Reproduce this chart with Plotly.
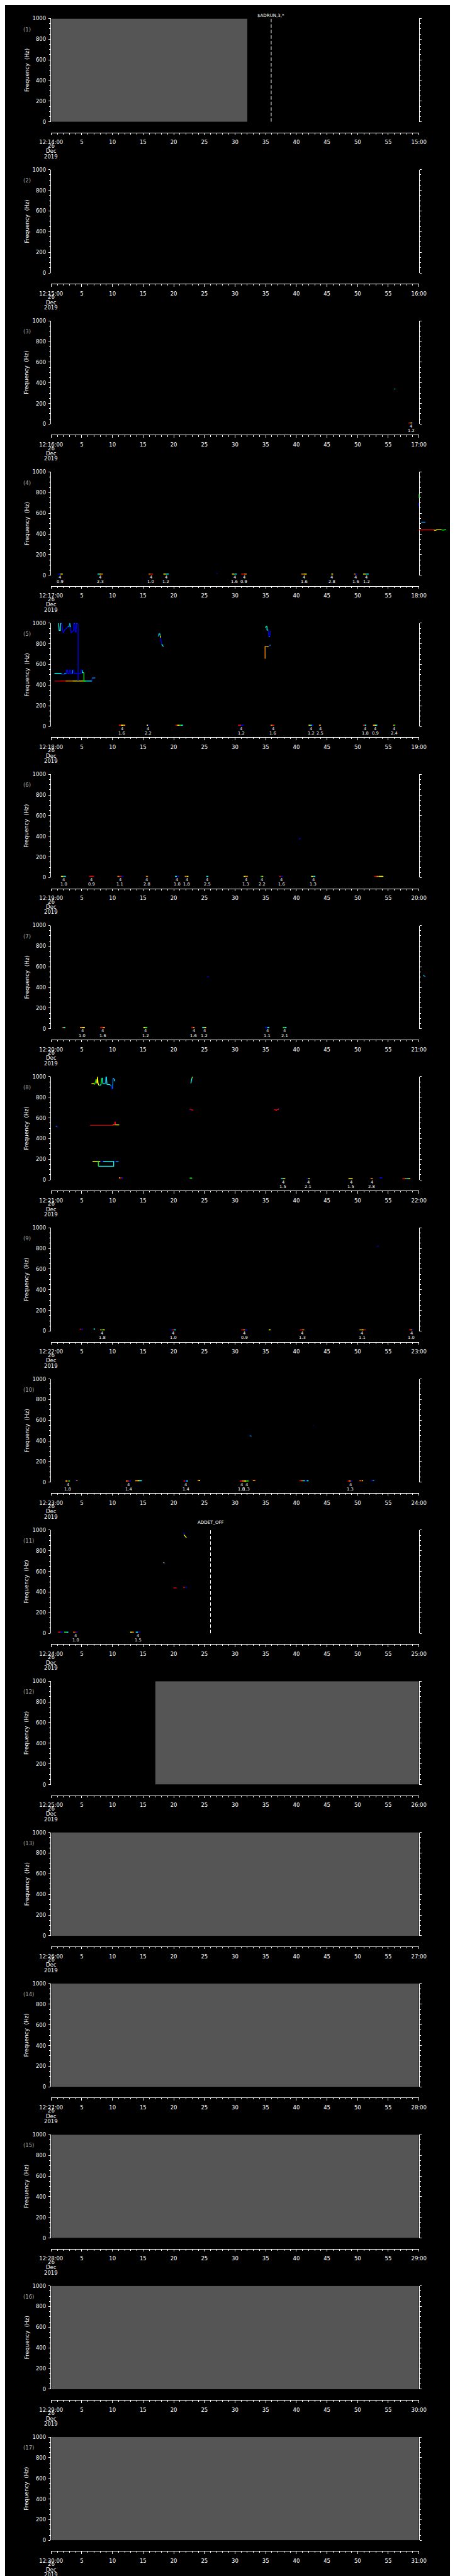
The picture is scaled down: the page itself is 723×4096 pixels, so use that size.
import plotly.graph_objects as go

S = 0.705
REF_W, REF_H = 1024, 5802
FIG_W, FIG_H = 723, 4096

# ---------------- data ----------------
panel_minute = list(range(14, 31))            # panel k covers 12:MM:00 .. 12:MM+1:00
date_lines = ["26", "Dec", "2019"]
time_ticks = list(range(0, 61, 5))
freq_ticks = [0, 200, 400, 600, 800, 1000]

gap_panel = [1, 12, 13, 14, 15, 16, 17]
gap_start = [0.0, 17.0, 0.0, 0.0, 0.0, 0.0, 0.0]
gap_end = [32.0, 60.0, 60.0, 60.0, 60.0, 60.0, 60.0]

event_panel = [1, 11]
event_time = [35.9, 26.0]
event_text = ["$ADRUN,3,*", "ADDET_OFF"]

count_text = "4"

# tracks: (times [s], frequencies [Hz], amplitude level of each segment 0..7)
p3_tracks = [([56.0, 56.15], [338, 342], [2])]
p4_tracks = [
    ([60.0, 61.95, 62.4, 62.5, 62.8, 62.9, 63.3, 63.7, 63.8, 64.1, 64.2, 64.45],
     [441, 441, 441, 436, 436, 441, 441, 441, 437, 437, 441, 441],
     [6, 6, 5, 4, 4, 4, 4, 3, 3, 3, 3]),
    ([60.36, 61.04], [514, 514], [1]),
    ([60.02, 60.04], [785, 748], [3]),
    ([59.93, 59.97], [699, 666], [0]),
]
p5_tracks = [
    ([0.54, 1.5, 2.36, 3.49, 5.30, 6.66, 6.66, 7.21],
     [440, 440, 440, 440, 440, 440, 468, 470],
     [7, 6, 5, 4, 2, 0, 1]),
    ([0.54, 1.68, 1.77, 2.13, 2.22, 2.49, 2.49, 2.72, 2.72, 2.95, 2.95, 3.17, 3.17,
      3.49, 3.49, 3.72, 3.72, 4.03, 4.03, 4.85, 4.85, 5.08, 5.08, 5.35, 5.35, 5.62],
     [512, 512, 505, 505, 512, 512, 545, 545, 512, 512, 545, 545, 512,
      512, 545, 545, 515, 515, 510, 510, 546, 546, 520, 520, 440, 440],
     [2, 1, 0, 1, 1, 0, 0, 0, 0, 0, 0, 0, 0, 1, 0, 0, 0, 0, 0, 0, 0, 2, 2, 3, 3]),
    ([1.22, 1.31, 1.50, 1.54, 1.72, 1.81, 1.95, 2.22, 2.49, 2.72, 2.95, 3.04, 3.13,
      3.26, 3.40, 3.63, 3.72, 3.85, 3.94, 4.08, 4.12, 4.26, 4.35, 4.40, 4.40],
     [1000, 930, 930, 1000, 1000, 960, 905, 935, 955, 965, 968, 1000, 960,
      905, 915, 925, 1000, 1000, 915, 915, 1000, 1000, 985, 985, 440],
     [2, 2, 2, 2, 0, 0, 0, 0, 0, 1, 1, 2, 0, 0, 0, 0, 1, 0, 0, 0, 1, 0, 0, 0]),
    ([17.45, 17.54, 17.63, 17.72, 17.77, 17.86, 17.90, 17.95, 17.99, 18.13, 18.22, 18.35],
     [870, 880, 900, 900, 880, 860, 850, 820, 795, 790, 780, 775],
     [1, 2, 1, 2, 4, 0, 0, 0, 2, 2, 2]),
    ([34.90, 34.90, 35.21, 35.35, 35.49, 35.67, 35.76],
     [655, 775, 775, 770, 775, 780, 790],
     [5, 5, 4, 5, 0, 1]),
    ([34.99, 35.08, 35.21, 35.21, 35.44, 35.49, 35.67, 35.76],
     [955, 970, 970, 935, 930, 870, 870, 925],
     [2, 3, 2, 2, 0, 1, 0]),
]
p6_tracks = [([40.4, 40.7], [374, 380], [0])]
p7_tracks = [
    ([25.5, 25.7], [500, 507], [0]),
    ([60.73, 60.87, 61.05], [518, 510, 507], [2, 1]),
]
p8_tracks = [
    ([0.77, 0.91, 1.13], [520, 515, 510], [1, 0]),
    ([6.34, 7.70, 7.84, 10.06, 10.06, 10.38, 10.38, 10.47, 10.47, 11.10],
     [528, 525, 528, 528, 533, 533, 560, 560, 533, 533],
     [7, 7, 7, 6, 5, 6, 6, 6, 4]),
    ([6.75, 7.57, 7.70, 8.02, 8.47, 8.93, 10.06, 10.20, 10.51, 11.01],
     [180, 180, 180, 180, 180, 180, 180, 180, 180, 180],
     [4, 2, 4, 0, 2, 2, 2, 0, 1]),
    ([7.70, 7.70, 10.20, 10.20], [180, 133, 133, 180], [3, 2, 2]),
    ([6.57, 6.89, 7.12, 7.25, 7.34, 7.48, 7.57, 7.66, 7.79, 8.02, 8.16, 8.25, 8.34,
      8.47, 8.84, 8.93, 9.02, 9.11, 9.61, 9.84, 9.88, 10.02, 10.11, 10.29, 10.38],
     [930, 932, 925, 965, 975, 935, 1000, 935, 915, 915, 930, 985, 985,
      930, 930, 1000, 1000, 925, 922, 905, 880, 880, 985, 975, 955],
     [4, 4, 3, 3, 5, 4, 4, 4, 3, 2, 3, 2, 2, 2, 1, 2, 2, 2, 1, 0, 0, 1, 1, 2]),
    ([22.80, 22.89, 22.98, 23.11], [935, 975, 990, 1000], [2, 2, 4]),
    ([22.52, 22.61, 22.80, 22.89, 23.16], [675, 685, 685, 678, 675], [0, 6, 6, 6]),
    ([36.35, 36.57, 36.71, 36.85, 37.03, 37.12, 37.25],
     [682, 680, 672, 680, 680, 690, 690], [6, 6, 6, 6, 6, 0]),
]
p9_tracks = [([53.2, 53.4], [816, 826], [0])]
p10_tracks = [
    ([32.4, 32.7], [450, 446], [1]),
    ([42.75, 42.85], [549, 549], [0]),
]
p11_tracks = [
    ([18.35, 18.45, 18.58], [688, 680, 672], [4, 0]),
    ([19.94, 20.48], [440, 440], [6]),
    ([21.53, 21.84, 22.16], [445, 446, 445], [6, 0]),
    ([21.66, 21.66, 21.75, 22.07], [975, 955, 950, 925], [0, 4, 4]),
]

# short bursts near 0 Hz: (start s, end s, freq Hz, levels)
p3_marks = [(58.3, 59.1, 12, [6, 5, 4, 0])]
p4_marks = [(1.13, 1.90, 12, [0, 4]), (7.57, 8.47, 12, [2, 4, 5]), (15.9, 16.6, 12, [5, 6]),
            (18.3, 19.2, 12, [4, 2]), (27.0, 27.15, 18, [0]), (29.5, 30.3, 12, [4, 2]),
            (31.0, 31.9, 12, [6, 5]), (40.8, 41.7, 12, [5, 4]), (45.7, 46.0, 12, [4]),
            (49.4, 49.9, 12, [5, 0]), (50.9, 51.8, 12, [4, 2])]
p5_marks = [(11.06, 12.1, 12, [6, 4, 5]), (15.6, 16.0, 12, [4, 0]), (20.3, 21.5, 12, [6, 4, 3, 2]),
            (30.5, 31.45, 12, [6, 0]), (35.8, 36.4, 12, [5, 6]), (42.0, 42.8, 12, [4, 2, 0]),
            (43.7, 44.0, 12, [5]), (50.9, 51.4, 12, [6, 2]), (52.5, 53.2, 12, [5, 4, 2]),
            (55.8, 56.15, 12, [5, 3])]
p6_marks = [(1.6, 2.4, 12, [4, 2]), (6.2, 7.0, 12, [6]), (10.8, 11.8, 12, [5, 6, 0]),
            (15.45, 15.8, 12, [5]), (20.2, 20.85, 12, [2, 0]), (21.8, 22.4, 12, [5, 4]),
            (25.3, 25.65, 12, [2]), (31.4, 32.1, 12, [4, 5]), (34.2, 34.6, 12, [3, 4]),
            (37.2, 37.8, 12, [6, 0]), (42.4, 43.1, 12, [4, 2]), (52.7, 54.2, 12, [6, 5, 4, 4])]
p7_marks = [(1.86, 2.31, 12, [5, 2]), (4.7, 5.5, 12, [5, 4]), (8.0, 8.8, 12, [6, 5]),
            (15.05, 15.7, 12, [4, 3]), (22.9, 23.4, 12, [6, 5]), (24.65, 25.3, 12, [2, 4]),
            (34.9, 35.6, 12, [0, 2]), (37.8, 38.4, 12, [3, 2])]
p8_marks = [(11.06, 11.74, 20, [5, 6, 0]), (22.6, 23.0, 18, [3]), (37.5, 38.2, 12, [2, 4]),
            (41.65, 42.2, 12, [0, 4]), (48.5, 49.2, 12, [4]), (52.1, 52.5, 12, [5]),
            (53.6, 54.0, 20, [0]), (57.3, 58.6, 12, [6, 5, 2, 4])]
p9_marks = [(4.67, 5.2, 18, [6, 0]), (6.93, 7.16, 20, [2]), (7.98, 8.75, 12, [5, 3, 4]),
            (19.4, 20.35, 12, [0, 6, 2]), (31.0, 31.95, 12, [6, 5, 0]), (35.5, 35.8, 12, [4]),
            (40.6, 41.3, 12, [6, 5]), (50.3, 51.3, 12, [5, 4, 6]), (58.4, 59.1, 12, [6, 5, 0])]
p10_marks = [(2.36, 3.04, 12, [4, 6, 3]), (3.94, 4.3, 18, [0, 5]), (12.2, 13.0, 12, [5, 6, 0]),
             (13.7, 14.8, 15, [5, 4, 2]), (21.6, 22.3, 12, [6, 0, 2]), (23.9, 24.3, 18, [5, 4]),
             (30.8, 31.5, 12, [6, 5]), (31.5, 32.2, 12, [4, 3]), (32.9, 33.3, 18, [5]),
             (40.5, 42.0, 14, [6, 5, 2, 0, 2]), (48.4, 49.1, 12, [6, 5, 0]),
             (50.3, 50.9, 14, [5, 6, 4]), (52.2, 52.7, 16, [0, 1])]
p11_marks = [(1.13, 1.9, 12, [6, 0]), (2.13, 2.8, 12, [3, 2]), (3.6, 4.3, 12, [5, 6, 0]),
             (12.9, 13.5, 12, [4, 5]), (13.8, 14.5, 12, [2, 0])]

# value labels under bursts: (time s, text)
p3_labels = [(58.7, "1.2")]
p4_labels = [(1.45, "0.9"), (8.02, "2.3"), (16.27, "1.0"), (18.76, "1.2"), (29.91, "1.6"),
             (31.45, "0.9"), (41.29, "1.6"), (45.77, "2.8"), (49.67, "1.6"), (51.44, "1.2")]
p5_labels = [(11.56, "1.6"), (15.82, "2.2"), (31.0, "1.2"), (36.17, "1.6"), (42.42, "1.2"),
             (43.87, "2.5"), (51.21, "1.8"), (52.89, "0.9"), (55.97, "2.4")]
p6_labels = [(2.04, "1.0"), (6.57, "0.9"), (11.24, "1.1"), (15.59, "2.8"), (20.53, "1.0"),
             (22.12, "1.8"), (25.47, "2.5"), (31.77, "1.3"), (34.40, "2.2"), (37.57, "1.6"),
             (42.78, "1.3")]
p7_labels = [(5.08, "1.0"), (8.43, "1.6"), (15.41, "1.2"), (23.25, "1.6"), (25.02, "1.2"),
             (35.26, "1.1"), (38.11, "2.1")]
p8_labels = [(37.84, "1.5"), (41.92, "2.1"), (48.90, "1.5"), (52.30, "2.8")]
p9_labels = [(8.34, "1.8"), (19.94, "1.0"), (31.50, "0.9"), (40.97, "1.3"), (50.71, "1.1"),
             (58.78, "1.0")]
p10_labels = [(2.72, "1.8"), (12.64, "1.4"), (21.98, "1.4"), (31.05, "1.8"), (31.86, "1.3"),
              (48.81, "1.3")]
p11_labels = [(3.99, "1.0"), (14.19, "1.5")]

panel_tracks = {3: p3_tracks, 4: p4_tracks, 5: p5_tracks, 6: p6_tracks, 7: p7_tracks,
                8: p8_tracks, 9: p9_tracks, 10: p10_tracks, 11: p11_tracks}
panel_marks = {3: p3_marks, 4: p4_marks, 5: p5_marks, 6: p6_marks, 7: p7_marks,
               8: p8_marks, 9: p9_marks, 10: p10_marks, 11: p11_marks}
panel_labels = {3: p3_labels, 4: p4_labels, 5: p5_labels, 6: p6_labels, 7: p7_labels,
                8: p8_labels, 9: p9_labels, 10: p10_labels, 11: p11_labels}

# ---------------- style / layout ----------------
LEVEL_COLORS = ['#0000ff', '#0090ff', '#00ffff', '#00ff00', '#ffff00', '#ff9000', '#ff0000', '#c00000']
GAP_COLOR = '#555555'
FONT = 'DejaVu Sans'

X_L, X_R = 80.3, 945.1
TOP0, PERIOD, PLOT_H = 23.3, 341.29, 233.3
TAXIS_OFF = 257.5
EVENT_LABEL_Y = {1: 15.7, 11: 3418.5}


def yp(y):
    return 1 - y / REF_H


def xp(x):
    return x / REF_W


def top_of(k):
    return TOP0 + (k - 1) * PERIOD


N = len(panel_minute)
fig = go.Figure()
layout = dict(
    width=FIG_W, height=FIG_H, margin=dict(l=0, r=0, t=0, b=0),
    paper_bgcolor='black', plot_bgcolor='black', showlegend=False,
    font=dict(family=FONT, color='white', size=12 * S),
)
annotations = []

ext_axis = {4: 18, 7: 19}
EXT_SPAN = 60 * (REF_W - X_R) / (X_R - X_L)

for k in range(1, N + 1):
    top = top_of(k)
    bottom = top + PLOT_H
    m = panel_minute[k - 1]
    ttext = []
    for v in time_ticks:
        if v == 0:
            ttext.append("12:%02d:00" % m)
        elif v == 60:
            ttext.append("%02d:00" % (m + 1))
        else:
            ttext.append(str(v))
    layout['xaxis%d' % k] = dict(
        domain=[xp(X_L), xp(X_R)], range=[0, 60], anchor='free', position=yp(top + TAXIS_OFF),
        showline=True, linecolor='white', linewidth=1, ticks='outside', ticklen=5 * S,
        tickwidth=1, tickcolor='white', tickmode='array', tickvals=time_ticks, ticktext=ttext,
        minor=dict(tickmode='linear', tick0=0, dtick=1, ticks='outside', ticklen=3 * S,
                   tickcolor='white', tickwidth=1),
        showgrid=False, zeroline=False, tickangle=0, ticklabelstandoff=4,
        tickfont=dict(family=FONT, size=12 * S, color='white'), fixedrange=True,
    )
    layout['yaxis%d' % k] = dict(
        domain=[yp(bottom), yp(top)], range=[0, 1000], anchor='x%d' % k,
        showline=True, linecolor='white', linewidth=1, mirror='ticks', ticks='outside',
        ticklen=5 * S, tickwidth=1, tickcolor='white', tickmode='array', tickvals=freq_ticks,
        minor=dict(tickmode='linear', tick0=0, dtick=50, ticks='outside', ticklen=3 * S,
                   tickcolor='white', tickwidth=1),
        showgrid=False, zeroline=False, ticklabelstandoff=2,
        tickfont=dict(family=FONT, size=12 * S, color='white'), fixedrange=True,
    )
    # every panel needs one trace so that its axes are drawn
    fig.add_trace(go.Scatter(x=[None], y=[None], mode='lines', xaxis='x%d' % k, yaxis='y%d' % k,
                             hoverinfo='skip'))
    # y title, panel number, date lines
    annotations.append(dict(text="Frequency  (Hz)", textangle=-90, x=xp(22.9), y=yp(top + PLOT_H / 2),
                            xref='paper', yref='paper', showarrow=False, xanchor='center', yanchor='middle',
                            font=dict(family=FONT, size=12.5 * S, color='white')))
    annotations.append(dict(text="(%d)" % k, x=xp(11.8), y=yp(top + 24.4), xref='paper', yref='paper',
                            showarrow=False, xanchor='left', yanchor='middle',
                            font=dict(family=FONT, size=12 * S, color='#a8a8a8')))
    for j, line in enumerate(date_lines):
        annotations.append(dict(text=line, x=xp(X_L), y=yp(top + 287.4 + 12 * j), xref='paper',
                                yref='paper', showarrow=False, xanchor='center', yanchor='middle',
                                font=dict(family=FONT, size=12 * S, color='white')))

for k, xi in ext_axis.items():
    top = top_of(k)
    layout['xaxis%d' % xi] = dict(domain=[xp(X_R), 1.0], range=[60, 60 + EXT_SPAN], anchor='y%d' % xi,
                                  visible=False, fixedrange=True)
    layout['yaxis%d' % xi] = dict(domain=[yp(top + PLOT_H), yp(top)], range=[0, 1000],
                                  anchor='x%d' % xi, visible=False, fixedrange=True)

# data gaps (grey)
for k, a, b in zip(gap_panel, gap_start, gap_end):
    fig.add_trace(go.Scatter(x=[a, b, b, a, a], y=[0, 0, 1000, 1000, 0], fill='toself',
                             fillcolor=GAP_COLOR, mode='lines', line=dict(width=0, color=GAP_COLOR),
                             xaxis='x%d' % k, yaxis='y%d' % k, hoverinfo='skip'))

# event markers
for k, t, txt in zip(event_panel, event_time, event_text):
    fig.add_trace(go.Scatter(x=[t, t], y=[0, 1000], mode='lines',
                             line=dict(color='white', width=1, dash='5.6px,3.2px'),
                             xaxis='x%d' % k, yaxis='y%d' % k, hoverinfo='skip'))
    annotations.append(dict(text=txt, x=t, y=yp(EVENT_LABEL_Y[k]), xref='x%d' % k, yref='paper',
                            showarrow=False, xanchor='center', yanchor='middle',
                            font=dict(family=FONT, size=10 * S, color='white')))


def collect(store, t, f, lev):
    for i in range(len(t) - 1):
        c = LEVEL_COLORS[lev[i]]
        xs, ys = store.setdefault(c, ([], []))
        if xs and xs[-1] == t[i] and ys[-1] == f[i]:
            xs.append(t[i + 1]); ys.append(f[i + 1])
        else:
            if xs:
                xs.append(None); ys.append(None)
            xs.extend([t[i], t[i + 1]]); ys.extend([f[i], f[i + 1]])


for k, tracks in panel_tracks.items():
    main, ext = {}, {}
    for t, f, lev in tracks:
        collect(main, t, f, lev)
        if max(t) > 60 and k in ext_axis:
            collect(ext, t, f, lev)
    for c, (xs, ys) in main.items():
        fig.add_trace(go.Scatter(x=xs, y=ys, mode='lines', line=dict(color=c, width=1.3),
                                 xaxis='x%d' % k, yaxis='y%d' % k, hoverinfo='skip'))
    for c, (xs, ys) in ext.items():
        xi = ext_axis[k]
        fig.add_trace(go.Scatter(x=xs, y=ys, mode='lines', line=dict(color=c, width=1.3),
                                 xaxis='x%d' % xi, yaxis='y%d' % xi, hoverinfo='skip'))

for k, marks in panel_marks.items():
    store = {}
    for t0, t1, f, levs in marks:
        n = len(levs)
        ts = [t0 + (t1 - t0) * i / n for i in range(n + 1)]
        collect(store, ts, [f] * (n + 1), levs)
    for c, (xs, ys) in store.items():
        fig.add_trace(go.Scatter(x=xs, y=ys, mode='lines', line=dict(color=c, width=1.6),
                                 xaxis='x%d' % k, yaxis='y%d' % k, hoverinfo='skip'))

for k, labels in panel_labels.items():
    top = top_of(k)
    for t, txt in labels:
        annotations.append(dict(text=count_text, x=t, y=yp(top + 238.5), xref='x%d' % k, yref='paper',
                                showarrow=False, xanchor='center', yanchor='middle',
                                font=dict(family=FONT, size=9.5 * S, color='white')))
        annotations.append(dict(text=txt, x=t, y=yp(top + 248.5), xref='x%d' % k, yref='paper',
                                showarrow=False, xanchor='center', yanchor='middle',
                                font=dict(family=FONT, size=9.5 * S, color='white')))

layout['annotations'] = annotations
fig.update_layout(**layout)
fig.update_traces(showlegend=False)
fig.write_html("out.html", config={'displayModeBar': False})
